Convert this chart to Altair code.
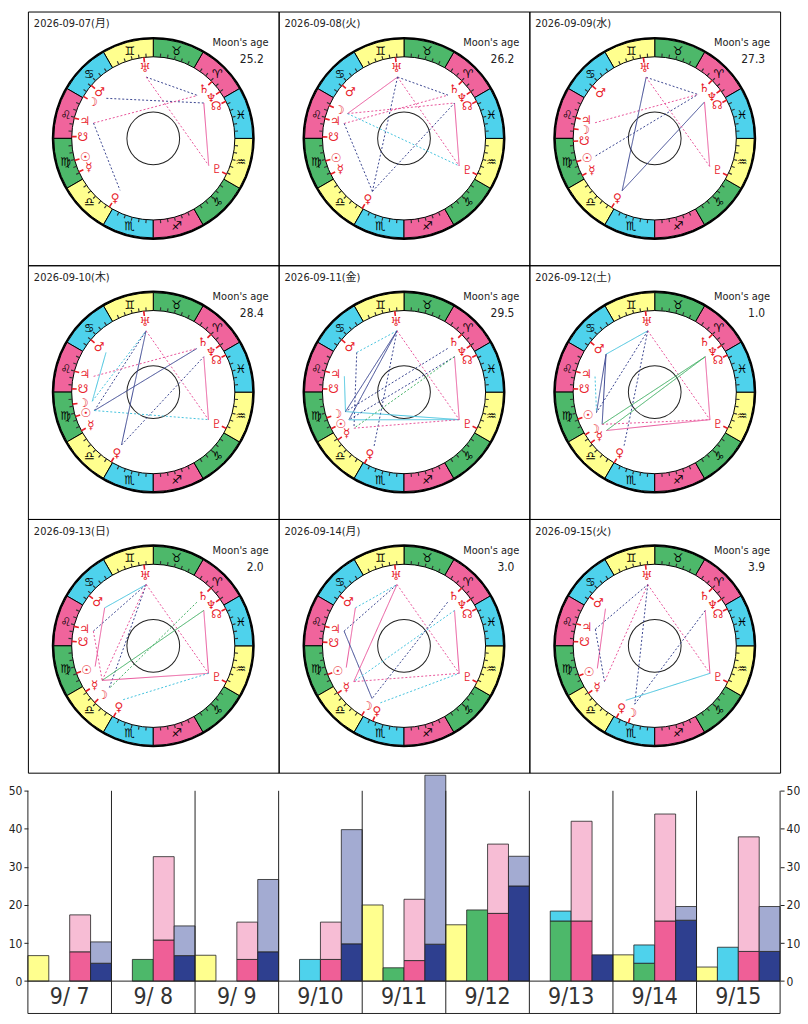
import math
import altair as alt
import pandas as pd

# ------------------------------------------------------------------ data
DATES = ["2026-09-07(月)", "2026-09-08(火)", "2026-09-09(水)", "2026-09-10(木)",
         "2026-09-11(金)", "2026-09-12(土)", "2026-09-13(日)", "2026-09-14(月)",
         "2026-09-15(火)"]
DAY_LABELS = ["9/ 7", "9/ 8", "9/ 9", "9/10", "9/11", "9/12", "9/13", "9/14", "9/15"]
MOON_AGE = ["25.2", "26.2", "27.3", "28.4", "29.5", "1.0", "2.0", "3.0", "3.9"]

SIGNS = ["Aries", "Taurus", "Gemini", "Cancer", "Leo", "Virgo", "Libra",
         "Scorpio", "Sagittarius", "Capricorn", "Aquarius", "Pisces"]
SIGN_GLYPHS = ["♈", "♉", "♊", "♋", "♌", "♍", "♎", "♏", "♐", "♑", "♒", "♓"]
SIGN_ELEMENT = ["fire", "earth", "air", "water"] * 3

PLANETS = ["Su", "Mo", "Me", "Ve", "Ma", "Ju", "Sa", "Ur", "Ne", "Pl", "NN", "SN"]
PLANET_GLYPHS = ["☉", "☽", "☿", "♀", "♂", "♃", "♄", "♅", "♆", "♇", "☊", "☋"]

# ecliptic longitudes (degrees) as drawn, one value per day 9/7 .. 9/15
SUN = [165.6, 166.0, 166.5, 167.4, 176.7, 169.3, 169.6, 170.6, 171.5]
MOON = [119.0, 126.3, 143.3, 158.5, 168.4, 181.5, 194.1, 208.8, 221.1]
MERCURY = [174.2, 176.0, 177.0, 178.2, 185.8, 188.5, 184.1, 185.5, 185.5]
VENUS = [207.4, 209.2, 208.1, 209.0, 211.0, 210.2, 210.8, 217.5, 212.0]
MARS = [109.5, 109.3, 110.0, 110.0, 110.0, 112.1, 112.0, 112.0, 113.0]
JUPITER = [135.6, 136.0, 135.3, 135.2, 135.2, 135.4, 136.2, 136.2, 134.3]
SATURN = [14.1, 14.5, 15.4, 15.0, 15.0, 15.0, 15.0, 15.0, 15.0]
URANUS = [66.6, 66.0, 68.0, 66.7, 66.5, 66.5, 66.5, 66.5, 66.5]
NEPTUNE = [5.0, 5.0, 6.2, 5.0, 5.0, 5.0, 5.0, 5.0, 5.0]
PLUTO = [304.0, 303.5, 303.0, 303.5, 303.5, 303.5, 303.5, 303.5, 303.5]
NORTH_NODE = [357.1, 357.0, 358.0, 357.0, 357.0, 357.0, 357.0, 357.0, 357.0]
SOUTH_NODE = [148.7, 149.0, 152.0, 147.7, 147.7, 147.7, 146.9, 147.4, 147.0]

# aspect lines per day: (planet, planet, colour, style)
ASPECTS = [
    [("Ur", "Sa", "navy", "dot"), ("Ma", "Ne", "navy", "dot"), ("Ju", "Sa", "pink", "dot"),
     ("Ur", "Pl", "pink", "dot"), ("Ne", "Pl", "pink", "solid"), ("Ju", "Ve", "navy", "dot")],
    [("Mo", "Ur", "pink", "solid"), ("Mo", "Ne", "pink", "dot"), ("Ju", "Sa", "pink", "dot"),
     ("Ur", "Sa", "navy", "dot"), ("Ur", "Pl", "pink", "dot"), ("Ne", "Pl", "pink", "solid"),
     ("Ju", "Ve", "navy", "dot"), ("Ur", "Ve", "navy", "dot"), ("Mo", "Pl", "cyan", "dot"),
     ("Ve", "Ne", "navy", "dot")],
    [("Ur", "Sa", "navy", "dot"), ("Ju", "Sa", "pink", "dot"), ("Su", "Sa", "navy", "dot"),
     ("Ur", "Ve", "navy", "solid"), ("Ve", "Ne", "navy", "solid"), ("Ur", "Pl", "pink", "dot"),
     ("Ne", "Pl", "pink", "solid")],
    [("Ma", "Mo", "cyan", "solid"), ("Mo", "Ur", "cyan", "dot"), ("Su", "Ur", "navy", "dot"),
     ("Su", "Sa", "navy", "solid"), ("Su", "Pl", "cyan", "dot"), ("Ju", "Sa", "pink", "dot"),
     ("Ur", "Ve", "navy", "solid"), ("Ur", "Pl", "pink", "dot"), ("Ne", "Pl", "pink", "solid"),
     ("Ve", "Ne", "navy", "dot")],
    [("Ma", "Ur", "cyan", "dot"), ("Ma", "Me", "navy", "dot"), ("Ju", "Mo", "cyan", "solid"),
     ("Ur", "Mo", "navy", "solid"), ("Ur", "Su", "navy", "solid"), ("Ur", "Ve", "navy", "dot"),
     ("Ur", "Pl", "pink", "dot"), ("Ne", "Pl", "pink", "solid"), ("Mo", "Pl", "cyan", "solid"),
     ("Su", "Pl", "cyan", "solid"), ("Me", "Pl", "pink", "dot"), ("Sa", "Mo", "navy", "dot"),
     ("Ne", "Su", "navy", "dot"), ("Ne", "Me", "green", "dot")],
    [("Ma", "Ur", "cyan", "solid"), ("Ma", "Mo", "navy", "solid"), ("Ma", "Su", "navy", "solid"),
     ("Ju", "Su", "cyan", "dot"), ("Ur", "Su", "navy", "dot"), ("Ur", "Ve", "navy", "dot"),
     ("Ur", "Pl", "pink", "dot"), ("Ne", "Pl", "pink", "solid"), ("Ne", "Mo", "green", "solid"),
     ("Ne", "Me", "green", "solid"), ("Me", "Pl", "pink", "solid"), ("Mo", "Pl", "pink", "dot")],
    [("Ma", "Ur", "cyan", "solid"), ("Ma", "Su", "pink", "solid"), ("Ju", "Ur", "navy", "dot"),
     ("Ju", "Me", "pink", "dot"), ("Ur", "Mo", "navy", "dot"), ("Ur", "Me", "pink", "dot"),
     ("Ur", "Pl", "pink", "dot"), ("Ne", "Pl", "pink", "solid"), ("Ne", "Me", "green", "solid"),
     ("Sa", "Mo", "green", "dot"), ("Me", "Pl", "pink", "solid"), ("Ve", "Pl", "cyan", "dot")],
    [("Ma", "Ur", "cyan", "dot"), ("Ma", "Su", "pink", "solid"), ("Ju", "Ur", "navy", "dot"),
     ("Ju", "Mo", "navy", "solid"), ("Ur", "Me", "pink", "solid"), ("Ur", "Pl", "pink", "dot"),
     ("Ne", "Pl", "pink", "solid"), ("Ne", "Me", "cyan", "dot"), ("Sa", "Mo", "navy", "dot"),
     ("Me", "Pl", "pink", "dot"), ("Ve", "Pl", "cyan", "dot")],
    [("Ma", "Su", "pink", "solid"), ("Ju", "Ur", "navy", "dot"), ("Ju", "Me", "navy", "dot"),
     ("Ur", "Me", "pink", "dot"), ("Ur", "Mo", "navy", "dot"), ("Ur", "Pl", "pink", "dot"),
     ("Ne", "Mo", "navy", "dot"), ("Ne", "Pl", "pink", "solid"), ("Ve", "Pl", "cyan", "solid")],
]

# bar chart values per day
YELLOW = [6.7, 0, 6.8, 0, 20.0, 14.8, 0, 6.9, 3.7]
GREEN = [0, 5.7, 0, 0, 3.5, 18.7, 15.8, 4.7, 0]
CYAN = [0, 0, 0, 5.7, 0, 0, 2.6, 4.8, 8.9]
PINK_DARK = [7.7, 10.8, 5.7, 5.7, 5.4, 17.8, 15.8, 15.8, 7.8]
PINK_TOTAL = [17.4, 32.7, 15.5, 15.5, 21.5, 36.0, 42.0, 43.9, 37.9]
NAVY_DARK = [4.7, 6.7, 7.7, 9.8, 9.7, 25.0, 6.9, 16.0, 7.8]
NAVY_TOTAL = [10.3, 14.5, 26.7, 39.8, 54.1, 32.8, 6.9, 19.6, 19.6]

# ------------------------------------------------------------------ style
FONT_TXT = "Liberation Sans Narrow, DejaVu Sans Condensed, Roboto, Noto Sans CJK JP"
FONT_GLYPH = "DejaVu Sans"
VS = "\ufe0e"
ELEM_DOMAIN = ["fire", "earth", "air", "water"]
ELEM_RANGE = ["#F0649C", "#4DB86A", "#FFFF8E", "#4ED2EC"]
LINE_DOMAIN = ["pink", "navy", "cyan", "green"]
LINE_RANGE = ["#E8559A", "#3A4690", "#45C3DE", "#3FAE62"]
RED = "#E8202A"

W, H = 252, 255
R_OUT, R_IN = 100, 82
R_LINE = 62
TH = alt.Scale(domain=[0, 360], range=[0, 2 * math.pi])
XS = alt.Scale(domain=[-W / 2, W / 2], nice=False, zero=False)
YS = alt.Scale(domain=[-H / 2, H / 2], nice=False, zero=False)

LON = [SUN, MOON, MERCURY, VENUS, MARS, JUPITER, SATURN, URANUS, NEPTUNE, PLUTO,
       NORTH_NODE, SOUTH_NODE]


def chart_angle(lon):
    # Aries 0 sits 60 degrees clockwise from the top; the zodiac runs counter-clockwise
    return (60.0 - lon) % 360.0


signs_df = pd.DataFrame({
    "sign": SIGNS,
    "glyph": [g + VS for g in SIGN_GLYPHS],
    "element": SIGN_ELEMENT,
    "lon": [30 * i for i in range(12)],
})
signs_df["t0"] = (60 - signs_df["lon"] - 30) % 360
signs_df["t1"] = signs_df["t0"] + 30
signs_df["tm"] = signs_df["t0"] + 15

ticks_deg = [d for d in range(0, 360, 5) if d % 30 != 0]
ticks_df = pd.DataFrame({"t0": [d - 0.4 for d in ticks_deg], "t1": [d + 0.4 for d in ticks_deg]})
full_df = pd.DataFrame({"t0": [0], "t1": [360]})


def theta_enc(field):
    return alt.Theta(field, type="quantitative", scale=TH, stack=False)


def wheel(i):
    pl = pd.DataFrame({
        "planet": PLANETS,
        "glyph": [g + VS for g in PLANET_GLYPHS],
        "lon": [arr[i] for arr in LON],
    })
    pl["t"] = pl["lon"].map(chart_angle)
    pl["t0"] = pl["t"] - 0.6
    pl["t1"] = pl["t"] + 0.6
    pos = dict(zip(pl["planet"], pl["t"]))

    rows = []
    for a, b, col, dash in ASPECTS[i]:
        ta, tb = math.radians(pos[a]), math.radians(pos[b])
        rows.append({
            "x": R_LINE * math.sin(ta), "y": R_LINE * math.cos(ta),
            "x2": R_LINE * math.sin(tb), "y2": R_LINE * math.cos(tb),
            "col": col, "dash": dash,
        })
    lines_df = pd.DataFrame(rows)

    ring = alt.Chart(signs_df).mark_arc(radius=R_OUT, radius2=R_IN, stroke="black",
                                        strokeWidth=1).encode(
        theta=theta_enc("t0"), theta2="t1",
        fill=alt.Fill("element:N", scale=alt.Scale(domain=ELEM_DOMAIN, range=ELEM_RANGE),
                      legend=None))
    outer = alt.Chart(full_df).mark_arc(radius=R_OUT + 2, radius2=R_OUT, fill="black").encode(
        theta=theta_enc("t0"), theta2="t1")
    ticks = alt.Chart(ticks_df).mark_arc(radius=R_IN + 3.5, radius2=R_IN, fill="#333333").encode(
        theta=theta_enc("t0"), theta2="t1")
    sign_txt = alt.Chart(signs_df).mark_text(radius=(R_OUT + R_IN) / 2, font=FONT_GLYPH,
                                             fontSize=12, fontWeight="bold",
                                             color="black").encode(
        theta=theta_enc("tm"), text="glyph:N")
    center = alt.Chart(full_df).mark_arc(radius=27, radius2=26, fill="#222222").encode(
        theta=theta_enc("t0"), theta2="t1")
    lines = alt.Chart(lines_df).mark_rule(strokeWidth=1).encode(
        x=alt.X("x:Q", scale=XS, axis=None), y=alt.Y("y:Q", scale=YS, axis=None),
        x2="x2:Q", y2="y2:Q",
        color=alt.Color("col:N", scale=alt.Scale(domain=LINE_DOMAIN, range=LINE_RANGE),
                        legend=None),
        strokeDash=alt.StrokeDash("dash:N", scale=alt.Scale(domain=["dot", "solid"],
                                                             range=[[2, 2], [1, 0]]),
                                  legend=None))
    ptick = alt.Chart(pl).mark_arc(radius=R_IN, radius2=R_IN - 5, fill=RED).encode(
        theta=theta_enc("t0"), theta2="t1")
    pglyph = alt.Chart(pl).mark_text(radius=71, font=FONT_GLYPH, fontSize=12,
                                     fontWeight="bold", color=RED).encode(
        theta=theta_enc("t"), text="glyph:N")
    info = pd.DataFrame({"date": [DATES[i]], "age": [MOON_AGE[i]], "lbl": ["Moon's age"]})
    date_txt = alt.Chart(info).mark_text(align="left", baseline="middle", font=FONT_TXT,
                                         fontSize=11, color="#222222").encode(
        x=alt.value(6), y=alt.value(13), text="date:N")
    age_lbl = alt.Chart(info).mark_text(align="right", baseline="middle", font=FONT_TXT,
                                        fontSize=11, color="#222222").encode(
        x=alt.value(242), y=alt.value(32), text="lbl:N")
    age_val = alt.Chart(info).mark_text(align="right", baseline="middle", font=FONT_TXT,
                                        fontSize=12, color="#222222").encode(
        x=alt.value(237), y=alt.value(48), text="age:N")

    return alt.layer(ring, outer, ticks, sign_txt, center, lines, ptick, pglyph,
                     date_txt, age_lbl, age_val).properties(
        width=W, height=H, view=alt.ViewBackground(stroke="black", strokeWidth=1))


panels = [wheel(i) for i in range(9)]
grid = alt.concat(*panels, columns=3, spacing=0, bounds="flush")

# ------------------------------------------------------------------ bars
bar_rows = []
for d in range(9):
    base = 4 * d
    segs = [
        (base + 0, 0, YELLOW[d], "yellow"),
        (base + 1, 0, GREEN[d], "green"),
        (base + 1, GREEN[d], GREEN[d] + CYAN[d], "cyan"),
        (base + 2, 0, PINK_DARK[d], "pink"),
        (base + 2, PINK_DARK[d], PINK_TOTAL[d], "pinklight"),
        (base + 3, 0, NAVY_DARK[d], "navy"),
        (base + 3, NAVY_DARK[d], NAVY_TOTAL[d], "navylight"),
    ]
    for slot, lo, hi, part in segs:
        if hi > lo:
            bar_rows.append({"x0": slot, "x1": slot + 1, "y0": lo, "y1": hi, "part": part})
bars_df = pd.DataFrame(bar_rows)

Y_LOW, Y_TOP = -8.5, 54.5
BW, BH = 756, 241
BX = alt.Scale(domain=[0, 36], nice=False, zero=False)
BY = alt.Scale(domain=[Y_LOW, Y_TOP], nice=False, zero=False)
AX = dict(values=[0, 10, 20, 30, 40, 50], tickSize=4, domain=False, grid=False,
          labelFont=FONT_TXT, labelFontSize=12, labelColor="#222222", tickColor="#222222",
          labelPadding=2, title=None)

bars = alt.Chart(bars_df).mark_rect(stroke="#222222", strokeWidth=0.8).encode(
    x=alt.X("x0:Q", scale=BX, axis=None), x2="x1:Q",
    y=alt.Y("y0:Q", scale=BY, axis=alt.Axis(orient="left", **AX)), y2="y1:Q",
    fill=alt.Fill("part:N", scale=alt.Scale(
        domain=["yellow", "green", "cyan", "pink", "pinklight", "navy", "navylight"],
        range=["#FFFF8E", "#4DB86A", "#4ED2EC", "#EF5F97", "#F7BDD5", "#2E3F8F", "#A3ABD2"]),
        legend=None))

sep_df = pd.DataFrame({"x": [4 * k for k in range(10)], "lo": Y_LOW, "hi": 50})
seps = alt.Chart(sep_df).mark_rule(color="#222222", strokeWidth=1).encode(
    x=alt.X("x:Q", scale=BX, axis=None),
    y=alt.Y("lo:Q", scale=BY, axis=alt.Axis(orient="right", **AX)), y2="hi:Q")

hz_df = pd.DataFrame({"y": [0, Y_LOW], "a": 0, "b": 36})
hz = alt.Chart(hz_df).mark_rule(color="#222222", strokeWidth=1).encode(
    y=alt.Y("y:Q", scale=BY, axis=None), x=alt.X("a:Q", scale=BX, axis=None), x2="b:Q")

lab_df = pd.DataFrame({"x": [4 * d + 2 for d in range(9)], "y": Y_LOW / 2, "t": DAY_LABELS})
labels = alt.Chart(lab_df).mark_text(font=FONT_TXT, fontSize=23, color="#333333",
                                     baseline="middle").encode(
    x=alt.X("x:Q", scale=BX, axis=None), y=alt.Y("y:Q", scale=BY, axis=None), text="t:N")

bar_chart = alt.layer(bars, seps, hz, labels).resolve_axis(y="independent").properties(
    width=BW, height=BH)

chart = alt.vconcat(grid, bar_chart, spacing=0).resolve_scale(
    color="independent", fill="independent", strokeDash="independent"
).properties(padding={"left": 0, "top": 0, "right": 0, "bottom": 0}).configure_view(
    strokeWidth=0)

chart.save("out.html", embed_options={"renderer": "svg", "actions": False})
